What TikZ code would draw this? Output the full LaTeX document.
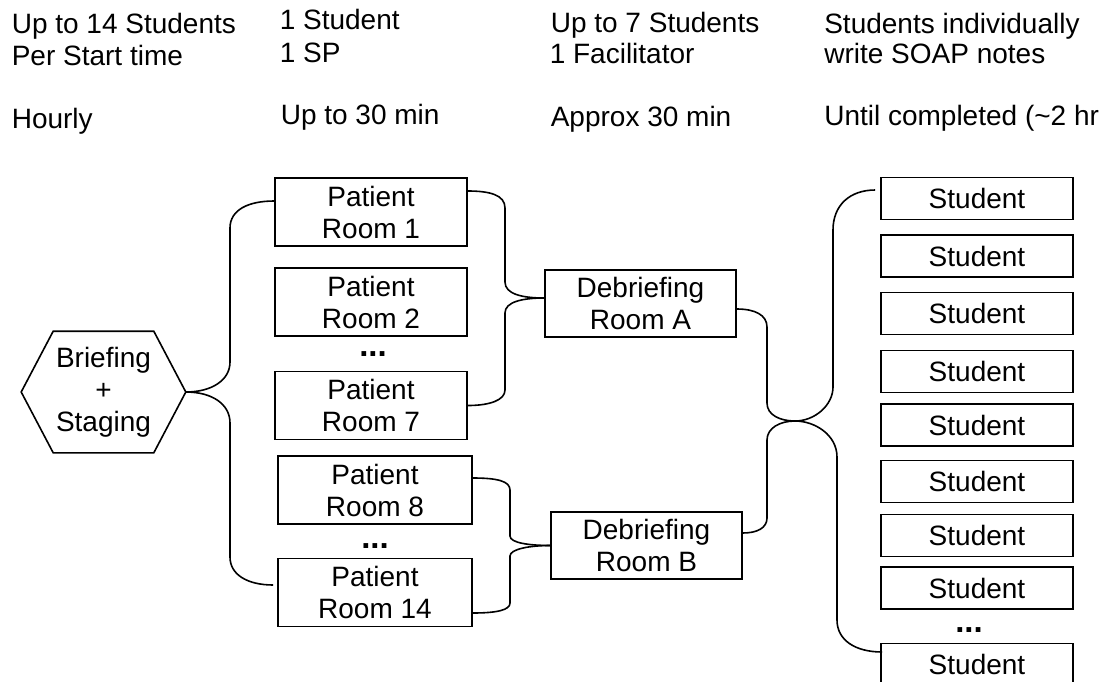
\documentclass[tikz,border=0pt]{standalone}
\usepackage{fontspec}
\setmainfont{Liberation Sans}
\usetikzlibrary{calc}
\begin{document}
\begin{tikzpicture}[x=1pt,y=-1pt,line width=1.6pt,
  every node/.style={font=\fontsize{28}{32}\selectfont},
  box/.style={draw,align=center,inner sep=0pt,minimum width=192pt,minimum height=68pt},
  wbox/.style={box,minimum width=194pt},
  dbox/.style={box,minimum width=191pt,minimum height=67pt},
  sbox/.style={draw,inner sep=0pt,minimum width=192pt,minimum height=42pt},
  hdr/.style={anchor=base west,inner sep=0pt},
  dotsnode/.style={inner sep=0pt,font=\fontsize{33}{33}\selectfont\bfseries},
  link/.style={line width=1.6pt}]
\useasboundingbox (0,0) rectangle (1111,681);
\clip (0,0) rectangle (1111,681);

% header texts
\node[hdr] (h1a) at (11,33) {Up to 14 Students};
\node[hdr] (h1b) at (11,65) {Per Start time};
\node[hdr] (h1c) at (11,128) {Hourly};
\node[hdr] (h2a) at (279,29) {1 Student};
\node[hdr] (h2b) at (279,62) {1 SP};
\node[hdr] (h2c) at (280,124) {Up to 30 min};
\node[hdr] (h3a) at (550,32) {Up to 7 Students};
\node[hdr] (h3b) at (549,63) {1 Facilitator};
\node[hdr] (h3c) at (550,126) {Approx 30 min};
\node[hdr] (h4a) at (823.5,33) {Students individually};
\node[hdr] (h4b) at (823.5,63) {write SOAP notes};
\node[hdr] (h4c) at (823.5,125) {Until completed (\textasciitilde 2 hr};

% briefing hexagon
\node[inner sep=0pt,minimum width=163pt,minimum height=120pt,align=center] (hex) at (103.5,392) {Briefing\\+\\Staging};
\draw (hex.west) -- ([xshift=32pt]hex.north west) -- ([xshift=-32pt]hex.north east) -- (hex.east)
  -- ([xshift=-32pt]hex.south east) -- ([xshift=32pt]hex.south west) -- cycle;

% patient rooms
\node[box] (r1) at (371,212) {Patient\\Room 1};
\node[box] (r2) at (371,302) {Patient\\Room 2};
\node[dotsnode] (d1) at (373,354) {...};
\node[box] (r7) at (371,405.5) {Patient\\Room 7};
\node[wbox] (r8) at (375,490) {Patient\\Room 8};
\node[dotsnode] (d2) at (375,546) {...};
\node[wbox] (r14) at (375,592.5) {Patient\\Room 14};

% debriefing rooms
\node[dbox] (dA) at (640.5,303.5) {Debriefing\\Room A};
\node[dbox] (dB) at (646.5,545.5) {Debriefing\\Room B};

% students
\node[sbox] (s1) at (977,198.5) {Student};
\node[sbox] (s2) at (977,256) {Student};
\node[sbox] (s3) at (977,313.5) {Student};
\node[sbox] (s4) at (977,371.5) {Student};
\node[sbox] (s5) at (977,425) {Student};
\node[sbox] (s6) at (977,481.5) {Student};
\node[sbox] (s7) at (977,535.5) {Student};
\node[sbox] (s8) at (977,588) {Student};
\node[dotsnode] (d3) at (969,630) {...};
\node[sbox] (s9) at (977,664.5) {Student};

\coordinate (m) at (795,421);

% connectors
\draw[link] (hex.east) .. controls (212,392) and (230,380) .. (230,362) -- (230,228)
  .. controls (230,210) and (248,201) .. ([yshift=11pt]r1.west);
\draw[link] (hex.east) .. controls (212,392) and (230,404) .. (230,423) -- (230,557)
  .. controls (230,575) and (248,585) .. ([xshift=-4pt,yshift=7.5pt]r14.west);

\draw[link] ([yshift=21pt]r1.east) .. controls (490,191) and (505,195) .. (505,208) -- (505,282)
  .. controls (505,294) and (522,298) .. ([yshift=5.5pt]dA.west);
\draw[link] (r7.east) .. controls (490,405.5) and (505,400) .. (505,390) -- (505,313)
  .. controls (505,302) and (522,298) .. ([yshift=5.5pt]dA.west);

\draw[link] ([yshift=12pt]r8.east) .. controls (497,478) and (510,481) .. (510,490) -- (510,536)
  .. controls (510,543) and (530,545.5) .. (dB.west);
\draw[link] ([yshift=-20.5pt]r14.east) .. controls (497,613) and (510,610) .. (510,603) -- (510,556)
  .. controls (510,549) and (530,545.5) .. (dB.west);

\draw[link] ([yshift=-5.5pt]dA.east) .. controls (755,309) and (767,315) .. (767,327) -- (767,403)
  .. controls (767,415) and (780,421) .. (m);
\draw[link] ([yshift=12.5pt]dB.east) .. controls (757,533) and (767,528) .. (767,518) -- (767,440)
  .. controls (767,428) and (780,421) .. (m);

\draw[link] (m) .. controls (815,421) and (833,405) .. (833,387) -- (833,230)
  .. controls (833,205) and (850,190) .. ([xshift=-5pt,yshift=8.5pt]s1.west);
\draw[link] (m) .. controls (815,421) and (837,435) .. (837,457) -- (837,620)
  .. controls (837,640) and (855,652) .. ([xshift=2pt,yshift=12.5pt]s9.west);
\end{tikzpicture}
\end{document}
